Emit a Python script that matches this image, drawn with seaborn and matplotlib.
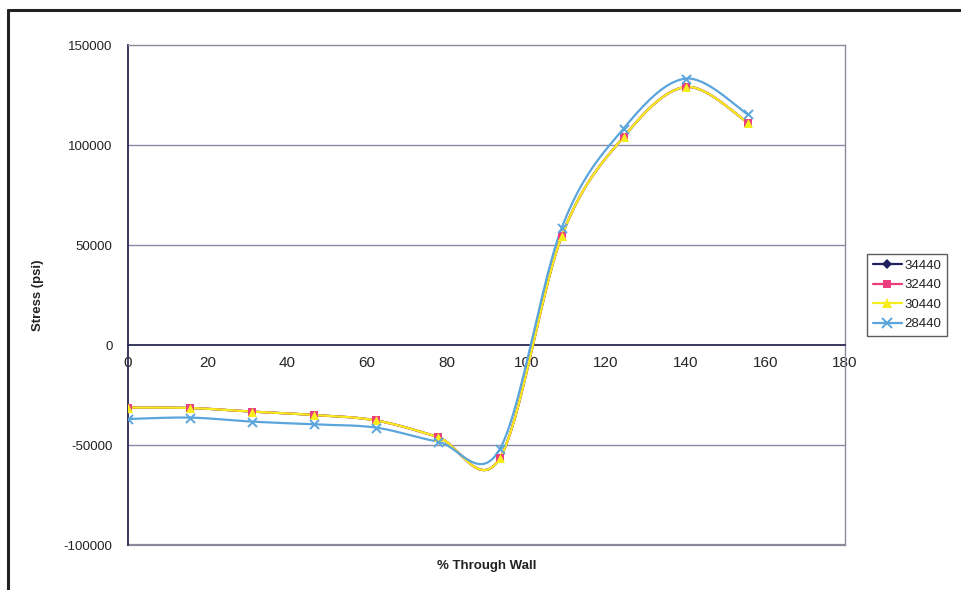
import numpy as np
import pandas as pd
import matplotlib
matplotlib.use("Agg")
import matplotlib.pyplot as plt
from matplotlib.lines import Line2D
import seaborn as sns

# Position through the wall (%) and hoop stress (psi) for each case
through_wall = [0.0, 15.6, 31.1, 46.7, 62.2, 77.8, 93.3, 108.9, 124.4, 140.0, 155.6]
stress_34440 = [-31300, -31500, -33300, -35000, -37700, -46000, -56700, 54500, 104000, 129000, 111200]
stress_32440 = [-31300, -31500, -33300, -35000, -37700, -46000, -56700, 54500, 104000, 129000, 111200]
stress_30440 = [-31300, -31500, -33300, -35000, -37700, -46000, -56700, 54500, 104000, 129000, 111200]
stress_28440 = [-37000, -36300, -38300, -39700, -41300, -48300, -52200, 58700, 108200, 133200, 115300]

series_names = ["34440", "32440", "30440", "28440"]
series_values = [stress_34440, stress_32440, stress_30440, stress_28440]
colors = ["#1f1f5f", "#ec3d7e", "#f6ee1c", "#5aa5dc"]
markers = ["D", "s", "^", "x"]
marker_sizes = [5, 6, 6.5, 6.5]
plot_marker_sizes = [3.5, 6, 6.5, 6.5]

x_ticks = [0, 20, 40, 60, 80, 100, 120, 140, 160, 180]
y_ticks = [-100000, -50000, 0, 50000, 100000, 150000]


def smooth_curve(x, y, n=40):
    """Cardinal (Catmull-Rom style) Bezier smoothing through the points."""
    pts = np.column_stack([x, y]).astype(float)
    out = []
    m = len(pts)
    for i in range(m - 1):
        p0 = pts[i - 1] if i > 0 else pts[i]
        p1 = pts[i]
        p2 = pts[i + 1]
        p3 = pts[i + 2] if i + 2 < m else pts[i + 1]
        c1 = p1 + (p2 - p0) / 6.0
        c2 = p2 - (p3 - p1) / 6.0
        t = np.linspace(0, 1, n, endpoint=(i == m - 2))[:, None]
        seg = ((1 - t) ** 3) * p1 + 3 * ((1 - t) ** 2) * t * c1 \
            + 3 * (1 - t) * t ** 2 * c2 + t ** 3 * p2
        out.append(seg)
    out = np.vstack(out)
    return out[:, 0], out[:, 1]


rows_curve = []
rows_pts = []
for name, vals in zip(series_names, series_values):
    sx, sy = smooth_curve(through_wall, vals)
    for k, (a, b) in enumerate(zip(sx, sy)):
        rows_curve.append({"order": k, "x": a, "y": b, "series": name})
    for a, b in zip(through_wall, vals):
        rows_pts.append({"x": a, "y": b, "series": name})
curve_df = pd.DataFrame(rows_curve)
pts_df = pd.DataFrame(rows_pts)

sns.set_theme(style="white")
plt.rcParams["font.family"] = ["Liberation Sans", "DejaVu Sans"]

fig = plt.figure(figsize=(9.61, 5.90), dpi=100)
ax = fig.add_axes([128 / 961, 1 - 545 / 590, (845 - 128) / 961, (545 - 45) / 590])

# outer chart frame (top and left edges)
fig.add_artist(Line2D([8 / 961, 1.0], [1 - 10 / 590, 1 - 10 / 590],
                      transform=fig.transFigure, color="#222222", lw=2.2))
fig.add_artist(Line2D([8 / 961, 8 / 961], [0.0, 1 - 10 / 590],
                      transform=fig.transFigure, color="#222222", lw=2.2))

for name, col, mk, ms in zip(series_names, colors, markers, plot_marker_sizes):
    cdf = curve_df[curve_df["series"] == name]
    sns.lineplot(data=cdf, x="x", y="y", sort=False, estimator=None,
                 color=col, lw=1.6, ax=ax, legend=False, zorder=3)
    pdf = pts_df[pts_df["series"] == name]
    if mk == "x":
        sns.scatterplot(data=pdf, x="x", y="y", marker="x", color=col,
                        s=ms ** 2, linewidth=1.4, ax=ax, legend=False, zorder=4)
    else:
        sns.scatterplot(data=pdf, x="x", y="y", marker=mk, color=col,
                        s=ms ** 2, linewidth=0, ax=ax, legend=False, zorder=4)

ax.set_xlim(0, 180)
ax.set_ylim(-100000, 150000)
ax.set_xticks(x_ticks)
ax.set_yticks(y_ticks)
ax.set_xticklabels([str(v) for v in x_ticks], fontsize=9.5, color="#222222")
ax.set_yticklabels([str(v) for v in y_ticks], fontsize=9.5, color="#222222")

# horizontal gridlines
for v in [50000, 100000, -50000]:
    ax.axhline(v, color="#8a8aa8", lw=1.0, zorder=1)

# plot-area border
for side in ["top", "right"]:
    ax.spines[side].set_color("#8a8a9a")
    ax.spines[side].set_linewidth(1.0)
ax.spines["left"].set_color("#2a2a55")
ax.spines["left"].set_linewidth(1.3)
ax.spines["bottom"].set_position(("data", 0))
ax.spines["bottom"].set_color("#2a2a55")
ax.spines["bottom"].set_linewidth(1.3)
ax.axhline(-100000, color="#8a8a9a", lw=1.6, zorder=1, clip_on=False)

ax.tick_params(axis="x", direction="out", length=4, width=1, color="#2a2a55", pad=4)
ax.tick_params(axis="y", direction="out", length=5, width=1, color="#2a2a55", pad=6)

ax.set_xlabel("")
ax.set_ylabel("")
fig.text(487 / 961, 1 - 566 / 590, "% Through Wall", ha="center", va="center",
         fontsize=9.5, fontweight="bold", color="#222222")
fig.text(38 / 961, 1 - 295 / 590, "Stress (psi)", ha="center", va="center",
         rotation=90, fontsize=9.5, fontweight="bold", color="#222222")

handles = []
for name, col, mk, ms in zip(series_names, colors, markers, marker_sizes):
    if mk == "x":
        h = Line2D([], [], color=col, lw=1.6, marker="x", markersize=ms,
                   markeredgewidth=1.4)
    else:
        h = Line2D([], [], color=col, lw=1.6, marker=mk, markersize=ms,
                   markeredgewidth=0)
    handles.append(h)
leg = fig.legend(handles, series_names, loc="upper left",
                 bbox_to_anchor=(867 / 961, 1 - 254 / 590),
                 fontsize=9.5, frameon=True, fancybox=False,
                 edgecolor="#333333", handlelength=2.2, handletextpad=0.2,
                 borderpad=0.42, labelspacing=0.55, borderaxespad=0)
leg.get_frame().set_linewidth(1.0)
for t in leg.get_texts():
    t.set_color("#222222")

fig.savefig("out.png", dpi=100, facecolor="white")
